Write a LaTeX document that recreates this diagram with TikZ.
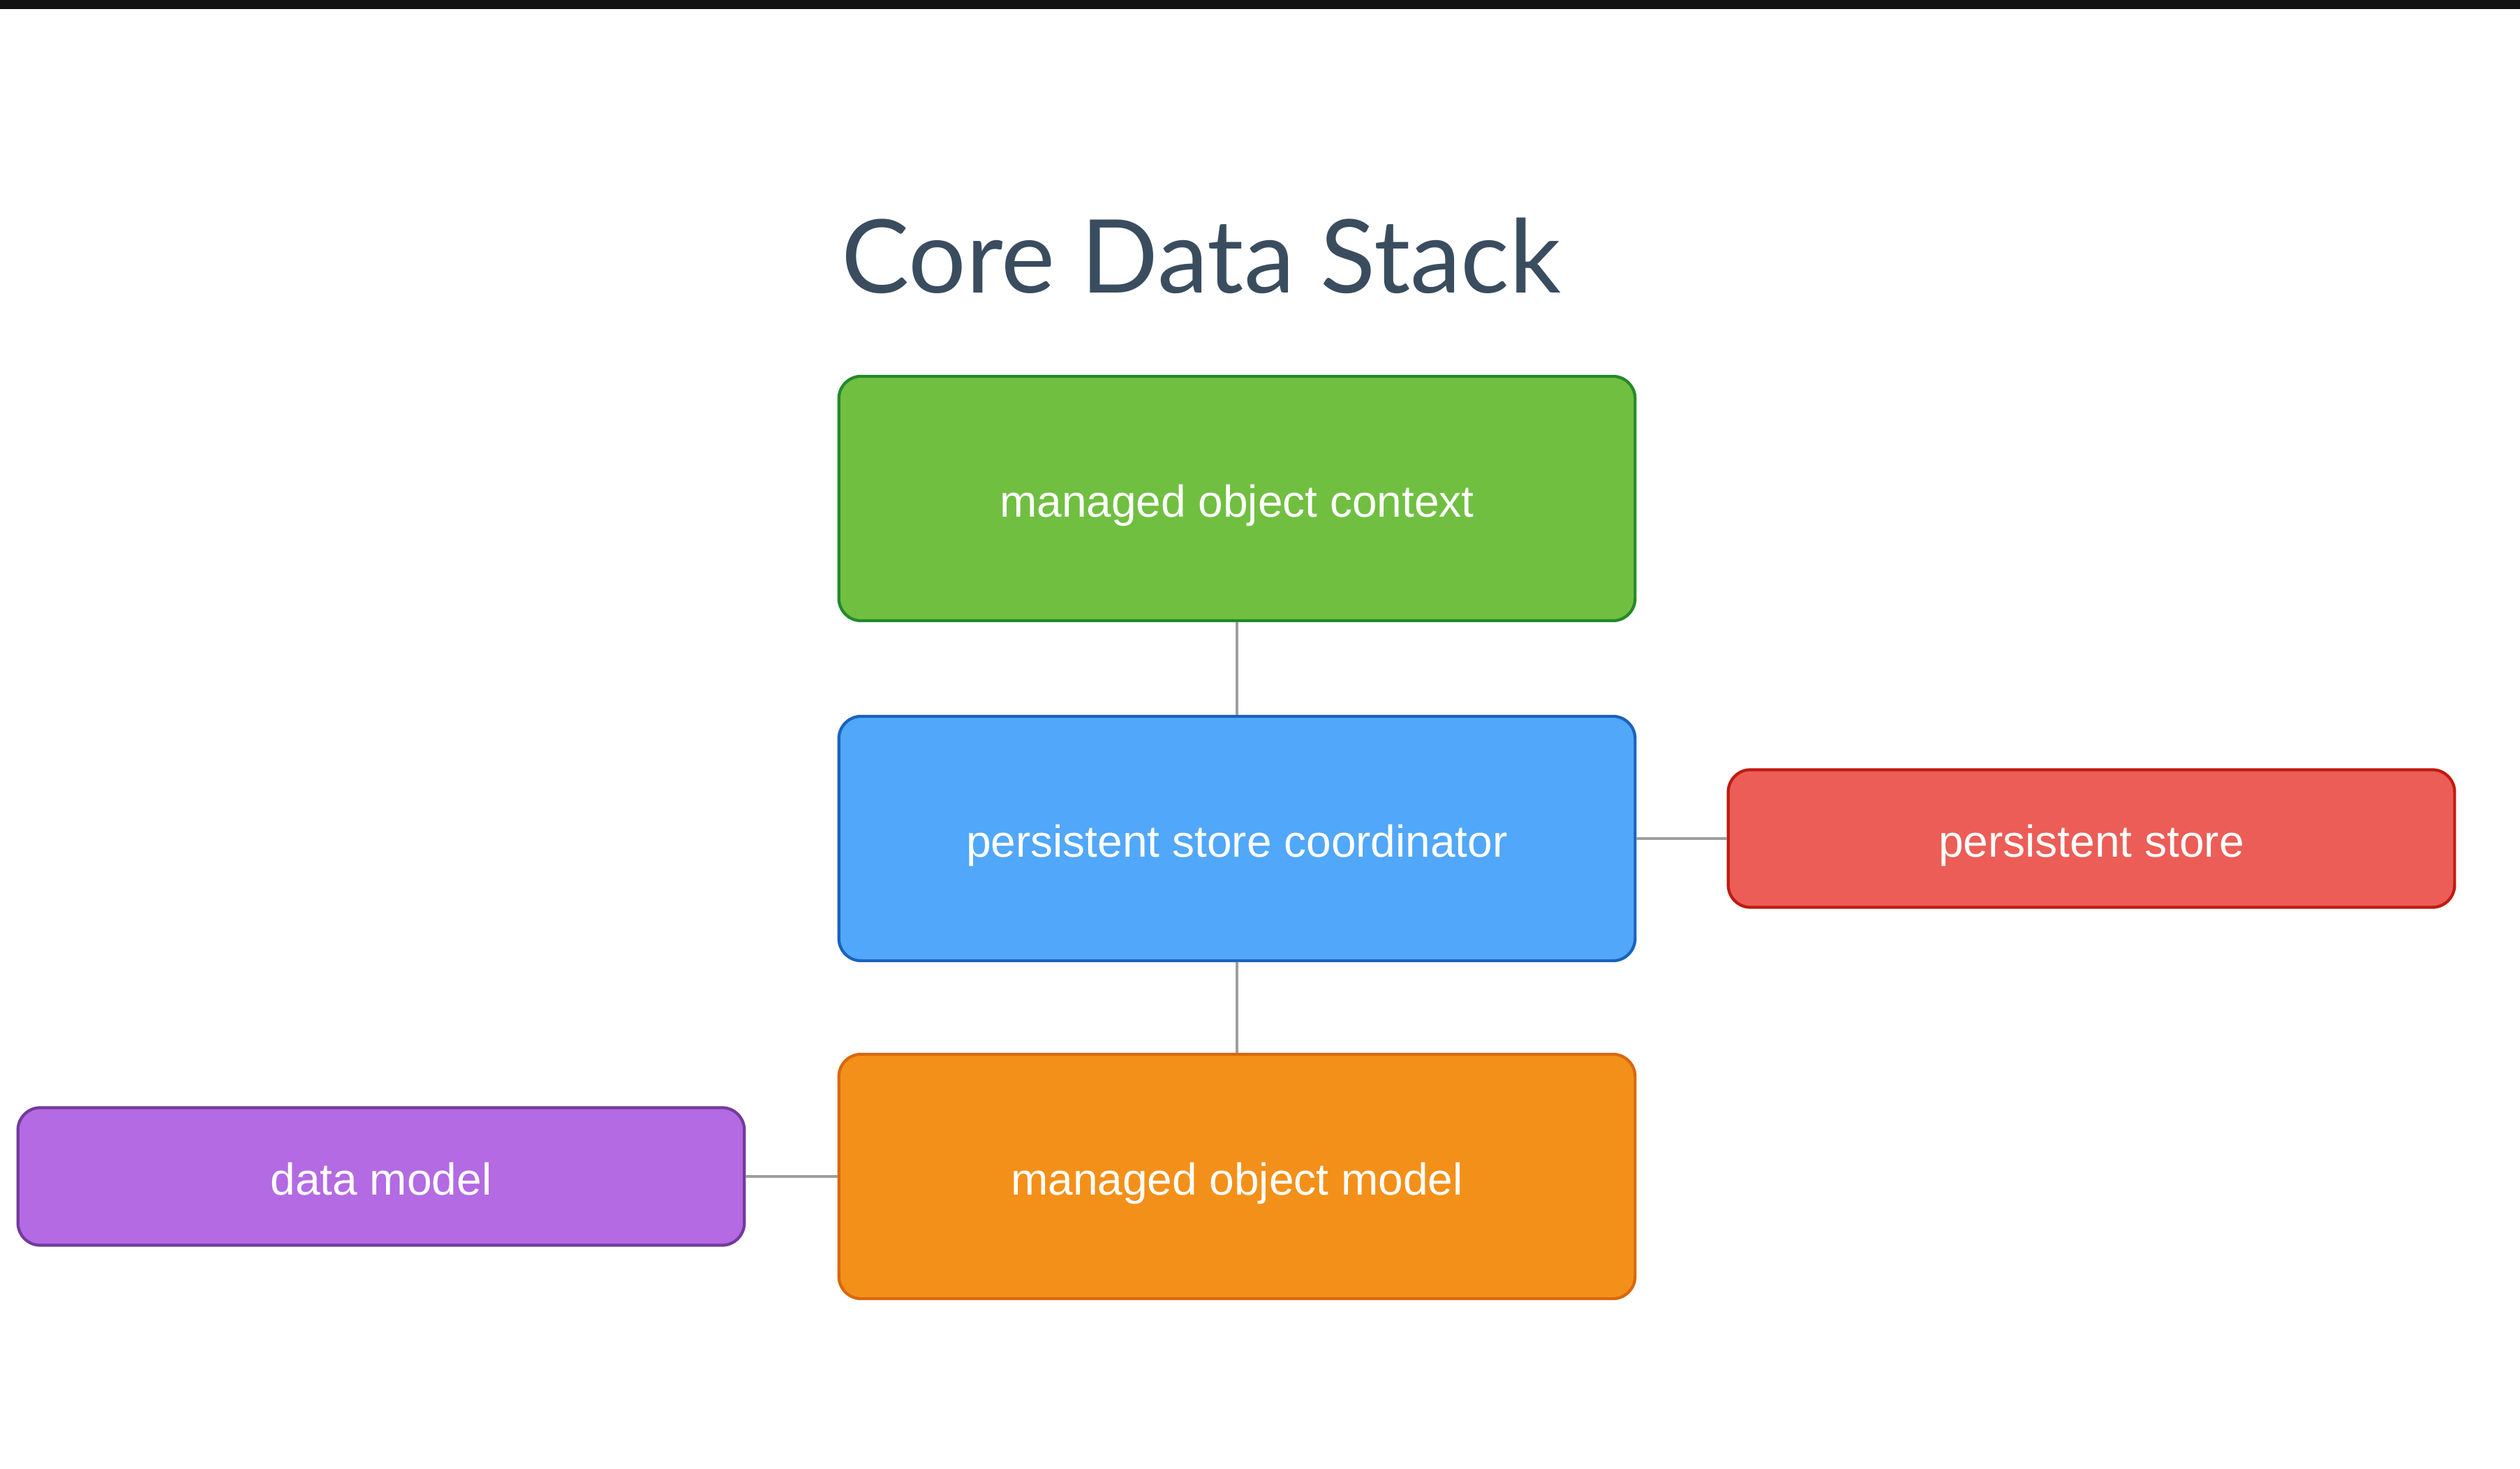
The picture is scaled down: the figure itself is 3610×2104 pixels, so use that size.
\documentclass[tikz,border=0pt]{standalone}
\usepackage{fontspec}
\setmainfont{Liberation Sans}
\newfontfamily\titlefont{Lato}
\definecolor{titlecol}{HTML}{3A4D5F}
\definecolor{gfill}{HTML}{70BF41}
\definecolor{gline}{HTML}{23892A}
\definecolor{bfill}{HTML}{51A7F9}
\definecolor{bline}{HTML}{1A62BE}
\definecolor{rfill}{HTML}{EC5D57}
\definecolor{rline}{HTML}{C01A12}
\definecolor{ofill}{HTML}{F39019}
\definecolor{oline}{HTML}{D9680F}
\definecolor{pfill}{HTML}{B36AE2}
\definecolor{pline}{HTML}{743A9E}
\definecolor{conn}{HTML}{9E9E9E}
\tikzset{
  box/.style={draw, rounded corners=0.32cm, line width=1.2pt, inner sep=0pt,
    text=white, font=\fontsize{18.2}{21}\selectfont,
    text height=0.56cm, text depth=0.04cm},
  bigbox/.style={box, minimum width=11.4cm, minimum height=3.5cm},
  sidebox/.style={box, minimum width=10.4cm, minimum height=1.97cm},
  link/.style={draw=conn, line width=1pt}
}
\begin{document}
\begin{tikzpicture}[x=0.01cm,y=-0.01cm]
\useasboundingbox (0,0) rectangle (3610,2104);
\fill[white] (0,0) rectangle (3610,2104);
\fill[black!93] (0,0) rectangle (3610,13);
\node (title) [anchor=base, text=titlecol, font=\titlefont\fontsize{41.5}{46}\selectfont, inner sep=0pt] at (1721,420) {Core Data Stack};
\node (moc) [bigbox, fill=gfill, draw=gline] at (1772,714) {managed object context};
\node (psc) [bigbox, fill=bfill, draw=bline] at (1772,1201) {persistent store coordinator};
\node (mom) [bigbox, fill=ofill, draw=oline] at (1772,1685) {managed object model};
\node (ps) [sidebox, fill=rfill, draw=rline] at (2996,1201) {persistent store};
\node (dm) [sidebox, fill=pfill, draw=pline] at (546,1685) {data model};
\draw[link] (moc.south) -- (psc.north);
\draw[link] (psc.south) -- (mom.north);
\draw[link] (psc.east) -- (ps.west);
\draw[link] (dm.east) -- (mom.west);
\end{tikzpicture}
\end{document}
